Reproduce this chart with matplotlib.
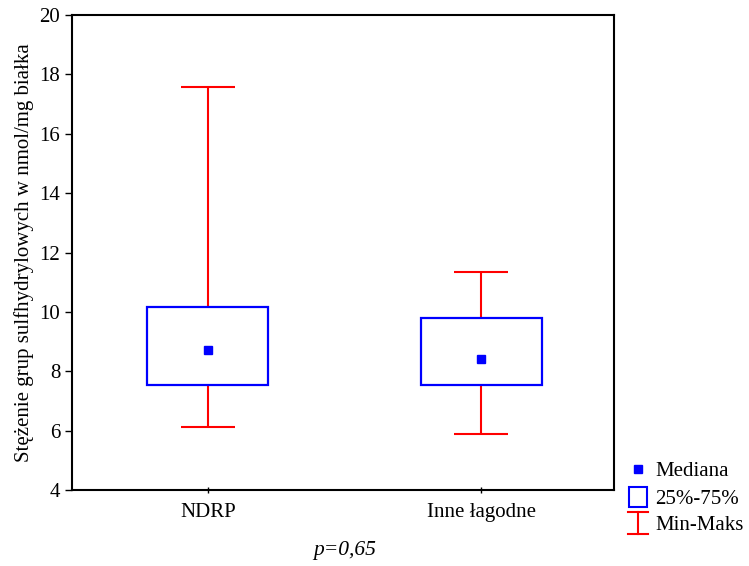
import numpy as np
import matplotlib.pyplot as plt
from matplotlib.lines import Line2D
from matplotlib.patches import Rectangle

plt.rcParams['font.family'] = ['Liberation Serif', 'DejaVu Serif']

groups = ['NDRP', 'Inne łagodne']
mins = [6.12, 5.89]
q1s = [7.54, 7.54]
medians = [8.72, 8.41]
q3s = [10.16, 9.80]
maxs = [17.58, 11.34]

W, H = 749, 566
fig = plt.figure(figsize=(W / 100, H / 100), dpi=100)
ax = fig.add_axes([72 / W, 1 - 490 / H, 542 / W, 475 / H])

x = np.arange(len(groups))
box_w = 0.443
cap_w = 0.2

ax.bar(x, np.array(q3s) - np.array(q1s), bottom=q1s, width=box_w,
       fill=False, edgecolor='#0000ff', linewidth=1.6, zorder=3)
ax.vlines(x, mins, q1s, color='#ff0000', linewidth=1.5)
ax.vlines(x, q3s, maxs, color='#ff0000', linewidth=1.5)
ax.hlines(mins, x - cap_w / 2, x + cap_w / 2, color='#ff0000', linewidth=1.5)
ax.hlines(maxs, x - cap_w / 2, x + cap_w / 2, color='#ff0000', linewidth=1.5)
ax.plot(x, medians, 's', color='#0000ff', markersize=6, linestyle='none', zorder=4)

ax.set_xlim(-0.498, 1.487)
ax.set_ylim(4, 20)
ax.set_yticks(np.arange(4, 21, 2))
ax.set_xticks(x)
ax.set_xticklabels(groups)
ax.tick_params(axis='y', direction='out', length=5, width=1, labelsize=15)
ax.tick_params(axis='x', direction='inout', length=5, width=1, labelsize=15, pad=7)
for s in ax.spines.values():
    s.set_linewidth(1.5)

ax.set_ylabel('Stężenie grup sulfhydrylowych w nmol/mg białka', fontsize=15, labelpad=4)

fig.text(345 / W, 1 - 551 / H, 'p=0,65', style='italic', fontsize=15.5,
         ha='center', va='center')

# legend drawn by hand in pixel positions
def fx(px):
    return px / W

def fy(py):
    return 1 - py / H

fig.add_artist(Line2D([fx(638)], [fy(469)], marker='s', color='#0000ff',
                      markersize=6, linestyle='none'))
fig.add_artist(Rectangle((fx(629), fy(507)), 18 / W, 20 / H, fill=False,
                         edgecolor='#0000ff', linewidth=1.5))
fig.add_artist(Line2D([fx(638), fx(638)], [fy(512), fy(534)], color='#ff0000', linewidth=1.5))
fig.add_artist(Line2D([fx(628), fx(648)], [fy(512), fy(512)], color='#ff0000', linewidth=1.5))
fig.add_artist(Line2D([fx(628), fx(648)], [fy(534), fy(534)], color='#ff0000', linewidth=1.5))

for label, py in zip(['Mediana', '25%-75%', 'Min-Maks'], [472, 499, 525]):
    fig.text(fx(655), fy(py), label, fontsize=15, ha='left', va='center')

fig.savefig('out.png', dpi=100)
